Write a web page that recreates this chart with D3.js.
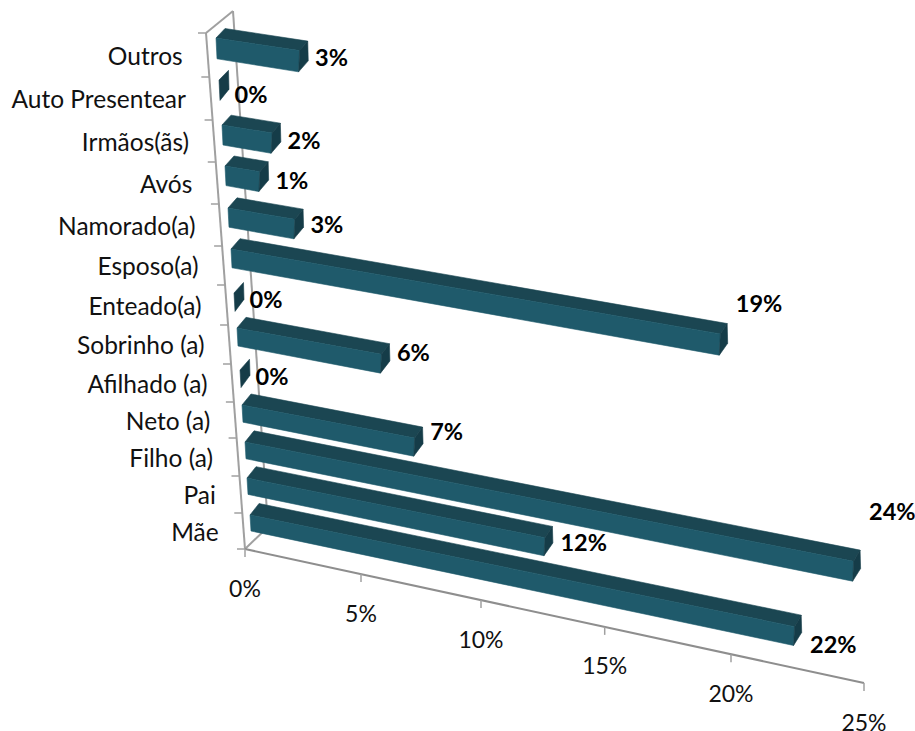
<!DOCTYPE html>
<html><head><meta charset="utf-8">
<script src="https://cdn.jsdelivr.net/npm/d3@7"></script>
<style>html,body{margin:0;padding:0;background:#fff}svg{display:block}text{font-family:Lato,"Open Sans",sans-serif}</style>
</head><body><svg id="c" width="915" height="731"></svg>
<script>
// Data, listed bottom to top as on the chart
const categories = ["Mãe","Pai","Filho (a)","Neto (a)","Afilhado (a)","Sobrinho (a)","Enteado(a)","Esposo(a)","Namorado(a)","Avós","Irmãos(ãs)","Auto Presentear","Outros"];
const values = [21.8,12.2,23.9,7.1,0,5.9,0,19.0,2.7,1.4,2.0,0,3.3];
const valueLabels = ["22%","12%","24%","7%","0%","6%","0%","19%","3%","1%","2%","0%","3%"];
const tickValues = [0,5,10,15,20,25];
const tickLabels = ["0%","5%","10%","15%","20%","25%"];

// Layout
const idx = categories.map((_,i)=>i);
const boundaryIdx = d3.range(categories.length+1);
const wallY = d3.scaleLinear().domain(boundaryIdx).range([549,513,476,438,402,364,325,285,246,204,162,120,77,33]);
const wallX = d3.scaleLinear().domain([549,33]).range([245,206]);
const backX = d3.scaleLinear().domain([527,11]).range([268,233]);
const floorX = d3.scaleLinear().domain(tickValues).range([245,361,481,604.7,731,864]);
const floorY = d3.scaleLinear().domain([245,864]).range([549,683]);
const barX0 = d3.scaleLinear().domain(idx).range([250,247,245,242,240,237,234,231,228,225,222,219,216]);
const barY0 = d3.scaleLinear().domain(idx).range([515,478,442,405,370,328,293,249,208,166,125,80,38]);
const stretch = d3.scaleLinear().domain([0,12]).range([1.02,1.092]);
const slope = d3.scaleLinear().domain([0,12]).range([0.205,0.151]);
const height0 = d3.scaleLinear().domain([0,12]).range([16,20.8]);
const depthY = d3.scaleLinear().domain([0,12]).range([11.5,9.5]);
const endDepthX = d3.scaleLinear().domain([0,25]).range([8.4,6.4]);
const labelDx = 15.5;
const labelDy = [17,4,-50,-7,6,-2,6,-31,5,8,7,14,6];

const svg = d3.select("#c");
const axisCol = "#a0a0a0", floorCol="#8e8e8e", textCol="#111";
const seg=(x1,y1,x2,y2,c,w)=>svg.append("line").attr("x1",x1).attr("y1",y1).attr("x2",x2).attr("y2",y2).attr("stroke",c).attr("stroke-width",w);

// Walls
seg(backX(11),11,backX(527),527,axisCol,2);
seg(wallX(33),33,backX(11),11,axisCol,2);
seg(245,549,backX(527),527,axisCol,2);
seg(wallX(33),33,245,549,axisCol,2);
boundaryIdx.forEach(i=>{const y=wallY(i);seg(wallX(y)-8,y,wallX(y),y,axisCol,1.5);});

// Floor axis
seg(245,549,864,683,floorCol,2);
tickValues.forEach(v=>{const x=floorX(v),y=floorY(x);seg(x,y,x,y+8,axisCol,1.5);});
svg.selectAll(".tl").data(tickValues).join("text").attr("class","tl")
  .attr("x",v=>floorX(v)).attr("y",v=>floorY(floorX(v))+38.5)
  .attr("text-anchor","middle").attr("dominant-baseline","central")
  .attr("font-size",23).attr("fill",textCol).text((v,i)=>tickLabels[i]);

// Category labels
svg.selectAll(".cl").data(categories).join("text").attr("class","cl")
  .attr("x",(d,i)=>wallX((wallY(i)+wallY(i+1))/2)-25)
  .attr("y",(d,i)=>(wallY(i)+wallY(i+1))/2)
  .attr("text-anchor","end").attr("dominant-baseline","central")
  .attr("font-size",24.5).attr("fill",textCol).text(d=>d);

// Bars, far to near
const poly=(pts,c)=>svg.append("polygon").attr("points",pts.map(p=>p.join(",")).join(" ")).attr("fill",c).attr("stroke",c).attr("stroke-width",0.6).attr("stroke-linejoin","round");
const ends=[];
for(let i=categories.length-1;i>=0;i--){
  const v=values[i], x0=barX0(i), y0=barY0(i);
  const len=stretch(i)*(floorX(v)-floorX(0));
  const x1=x0+len, y1=y0+len*slope(i);
  const h0=height0(i), h1=h0+0.13*v, d=depthY(i), ex=v>0?endDepthX(v):9.5;
  ends[i]=[x1,y1];
  if(v>0){
    poly([[x0,y0],[x1,y1],[x1+ex,y1-d],[x0+9,y0-d]],"#1b4652");
    poly([[x0,y0],[x1,y1],[x1-1,y1+h1],[x0+1,y0+h0]],"#1f5a6b");
  }
  poly([[x1,y1],[x1+ex,y1-d],[x1+ex+0.5,y1-d+h1-1.5],[x1-1+(v>0?0:2),y1+h1]],"#153c48");
}

// Value labels
svg.selectAll(".vl").data(valueLabels).join("text").attr("class","vl")
  .attr("x",(d,i)=>ends[i][0]+labelDx).attr("y",(d,i)=>ends[i][1]+labelDy[i])
  .attr("dominant-baseline","central").attr("font-size",23.5).attr("font-weight",700)
  .attr("fill","#000").text(d=>d);
</script></body></html>
